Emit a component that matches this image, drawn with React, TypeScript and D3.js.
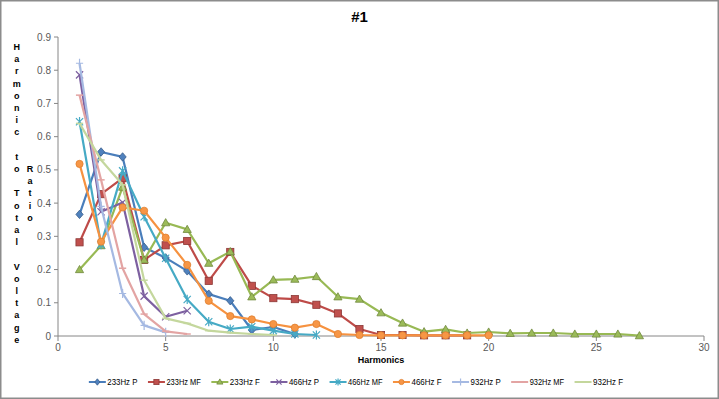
import React from 'react'
import * as d3 from 'd3'

// harmonic numbers start at 1 for every series
const seriesNames = ['233Hz P', '233Hz MF', '233Hz F', '466Hz P', '466Hz MF', '466Hz F', '932Hz P', '932Hz MF', '932Hz F']

const p233 = [0.366, 0.554, 0.539, 0.267, 0.235, 0.196, 0.126, 0.106, 0.018, 0.027, 0.006]
const mf233 = [0.282, 0.427, 0.475, 0.229, 0.273, 0.286, 0.166, 0.253, 0.151, 0.114, 0.111, 0.094, 0.068, 0.021, 0.003, 0.003, 0.002, 0.002, 0.002]
const f233 = [0.2, 0.272, 0.448, 0.229, 0.341, 0.321, 0.219, 0.254, 0.118, 0.169, 0.171, 0.179, 0.118, 0.111, 0.07, 0.039, 0.013, 0.02, 0.009, 0.012, 0.008, 0.009, 0.009, 0.006, 0.006, 0.006, 0.001]
const p466 = [0.786, 0.374, 0.402, 0.12, 0.058, 0.076]
const mf466 = [0.645, 0.275, 0.497, 0.359, 0.234, 0.11, 0.043, 0.021, 0.028, 0.016, 0.006, 0.003]
const f466 = [0.518, 0.284, 0.387, 0.377, 0.296, 0.214, 0.106, 0.06, 0.05, 0.036, 0.025, 0.036, 0.006, 0.003, 0.002, 0.002, 0.002, 0.002, 0.002, 0.002]
const p932 = [0.821, 0.39, 0.128, 0.032, 0.011]
const mf932 = [0.725, 0.47, 0.204, 0.066, 0.014, 0.006]
const f932 = [0.64, 0.53, 0.455, 0.168, 0.053, 0.038, 0.016, 0.01, 0.006, 0.003]

const xTicks = [0, 5, 10, 15, 20, 25, 30]
const yTicks = [0, 0.1, 0.2, 0.3, 0.4, 0.5, 0.6, 0.7, 0.8, 0.9]

const seriesValues = [p233, mf233, f233, p466, mf466, f466, p932, mf932, f932]

const styles = [
  { line: '#4a7ebb', fill: '#4f81bd', edge: '#385d8a', marker: 'diamond' },
  { line: '#be4b48', fill: '#c0504d', edge: '#8c3836', marker: 'square' },
  { line: '#98b954', fill: '#9bbb59', edge: '#71893f', marker: 'triangle' },
  { line: '#7d60a0', fill: 'none', edge: '#7d60a0', marker: 'x' },
  { line: '#46aac5', fill: 'none', edge: '#46aac5', marker: 'star' },
  { line: '#f69240', fill: '#f79646', edge: '#e07f2e', marker: 'circle' },
  { line: '#a5b9e2', fill: 'none', edge: '#a5b9e2', marker: 'plus' },
  { line: '#e3a4a3', fill: 'none', edge: '#e3a4a3', marker: 'dash' },
  { line: '#c4d79d', fill: 'none', edge: '#c4d79d', marker: 'dash' },
]

const W = 719
const H = 399
const margin = { left: 58, right: 15, top: 37, bottom: 63 }
const font = '"Liberation Sans Narrow", "Liberation Sans", Arial, sans-serif'

const x = d3.scaleLinear().domain([0, 30]).range([margin.left, W - margin.right])
const y = d3.scaleLinear().domain([0, 0.9]).range([H - margin.bottom, margin.top])

function Marker({ kind, cx, cy, st, s = 3.6 }: { kind: string; cx: number; cy: number; st: any; s?: number }) {
  if (kind === 'diamond')
    return <path d={`M${cx},${cy - s - 0.6}L${cx + s},${cy}L${cx},${cy + s + 0.6}L${cx - s},${cy}Z`} fill={st.fill} stroke={st.edge} strokeWidth={0.8} />
  if (kind === 'square')
    return <rect x={cx - s} y={cy - s} width={2 * s} height={2 * s} fill={st.fill} stroke={st.edge} strokeWidth={0.8} />
  if (kind === 'triangle')
    return <path d={`M${cx},${cy - s - 0.5}L${cx + s + 0.5},${cy + s - 0.5}L${cx - s - 0.5},${cy + s - 0.5}Z`} fill={st.fill} stroke={st.edge} strokeWidth={0.8} />
  if (kind === 'circle')
    return <circle cx={cx} cy={cy} r={s} fill={st.fill} stroke={st.edge} strokeWidth={0.8} />
  if (kind === 'x')
    return <path d={`M${cx - s},${cy - s}L${cx + s},${cy + s}M${cx - s},${cy + s}L${cx + s},${cy - s}`} stroke={st.edge} strokeWidth={1.2} />
  if (kind === 'star')
    return <path d={`M${cx - s},${cy - s}L${cx + s},${cy + s}M${cx - s},${cy + s}L${cx + s},${cy - s}M${cx},${cy - s - 1}L${cx},${cy + s + 1}`} stroke={st.edge} strokeWidth={1.2} />
  if (kind === 'plus')
    return <path d={`M${cx - s},${cy}L${cx + s},${cy}M${cx},${cy - s - 1}L${cx},${cy + s + 1}`} stroke={st.edge} strokeWidth={1.2} />
  return <path d={`M${cx - s},${cy}L${cx + s},${cy}`} stroke={st.edge} strokeWidth={1.5} />
}

const yTitleCol1 = 'Harmonic to Total Voltage'.split('')
const yTitleCol2 = 'Ratio'.split('')

export default function App() {
  const line = d3.line<number>().x((_, i) => x(i + 1)).y(d => y(d))

  // legend layout: sample line, small gap, squeezed text, gap; row centred
  const charW = 4.3
  const textW = seriesNames.map(n => n.length * charW)
  const items = textW.map(t => 17 + 1.5 + t + 10.5)
  const total = d3.sum(items) - 10.5
  let lx = 356 - total / 2
  const legendPos = items.map(w => { const p = lx; lx += w; return p })

  return (
    <svg width={W} height={H} style={{ position: 'absolute', left: 0, top: 0, background: '#fff' }}>
      <rect x={0.75} y={0.75} width={W - 1.5} height={H - 1.5} fill="#fff" stroke="#8c8c8c" strokeWidth={1.5} />
      <text x={W / 2} y={22} textAnchor="middle" fontFamily={font} fontWeight="bold" fontSize={15} fill="#000">#1</text>

      {/* axes */}
      <line x1={x(0)} x2={x(0)} y1={y(0.9)} y2={y(0)} stroke="#868686" strokeWidth={1} />
      <line x1={x(0)} x2={x(30)} y1={y(0)} y2={y(0)} stroke="#868686" strokeWidth={1} />
      {xTicks.map(t => (
        <g key={t}>
          <line x1={x(t)} x2={x(t)} y1={y(0)} y2={y(0) + 5} stroke="#868686" />
          <text x={x(t)} y={y(0) + 15} textAnchor="middle" fontFamily={font} fontSize={10} fill="#595959">{t}</text>
        </g>
      ))}
      {yTicks.map(t => (
        <g key={t}>
          <line x1={x(0) - 4} x2={x(0)} y1={y(t)} y2={y(t)} stroke="#868686" />
          <text x={51} y={y(t) + 3.5} textAnchor="end" fontFamily={font} fontSize={10} fill="#595959">{d3.format('~g')(t)}</text>
        </g>
      ))}
      <text x={(x(0) + x(30)) / 2} y={363} textAnchor="middle" fontFamily={font} fontWeight="bold" fontSize={9} fill="#000">Harmonics</text>

      {yTitleCol1.map((c, i) => (
        <text key={'a' + i} x={16.7} y={50 + i * 12.2} textAnchor="middle" fontFamily={font} fontWeight="bold" fontSize={9} fill="#000">{c}</text>
      ))}
      {yTitleCol2.map((c, i) => (
        <text key={'b' + i} x={30} y={50 + (i + 10) * 12.2} textAnchor="middle" fontFamily={font} fontWeight="bold" fontSize={9} fill="#000">{c}</text>
      ))}

      {/* series */}
      {seriesValues.map((vals, si) => (
        <g key={si}>
          <path d={line(vals) || ''} fill="none" stroke={styles[si].line} strokeWidth={2.2} strokeLinejoin="round" />
          {vals.map((v, i) => (
            <Marker key={i} kind={styles[si].marker} cx={x(i + 1)} cy={y(v)} st={styles[si]} />
          ))}
        </g>
      ))}

      {/* legend */}
      {seriesNames.map((n, i) => (
        <g key={n} transform={`translate(${legendPos[i]},382)`}>
          <line x1={0} x2={17} y1={0} y2={0} stroke={styles[i].line} strokeWidth={2} />
          <Marker kind={styles[i].marker} cx={8.5} cy={0} st={styles[i]} s={2.6} />
          <text x={18.5} y={3.2} fontFamily={font} fontSize={9} fill="#000" textLength={textW[i]} lengthAdjust="spacingAndGlyphs">{n}</text>
        </g>
      ))}
    </svg>
  )
}
